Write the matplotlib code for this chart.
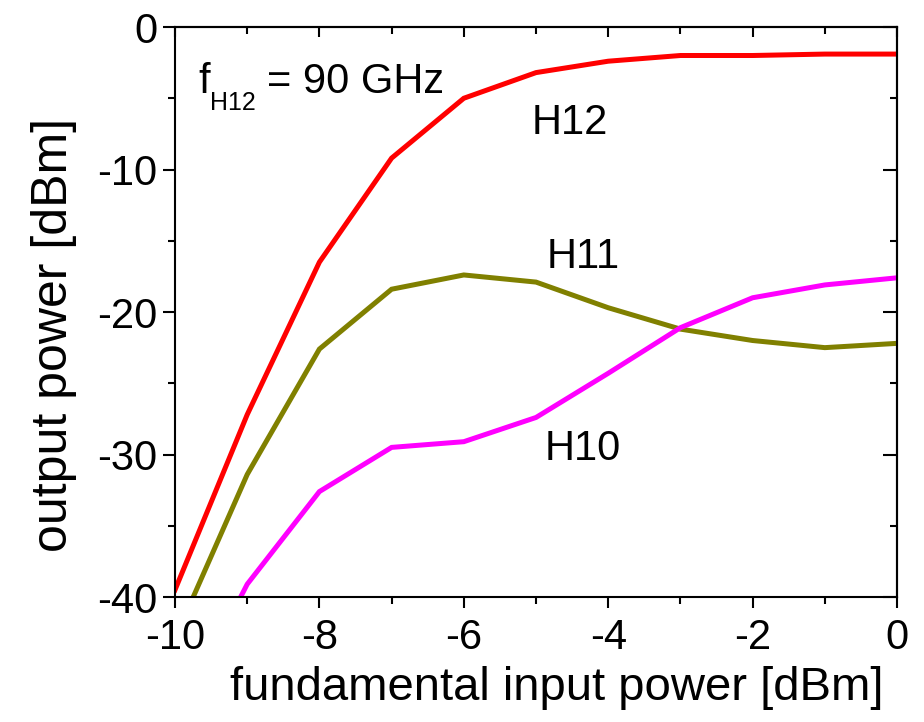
import numpy as np
import matplotlib.pyplot as plt
from matplotlib.ticker import MultipleLocator

plt.rcParams['font.family'] = ['Liberation Sans', 'DejaVu Sans']
plt.rcParams['axes.unicode_minus'] = False

# input power [dBm]
p_in = [-10, -9, -8, -7, -6, -5, -4, -3, -2, -1, 0]
# output power of the harmonics [dBm]
h12 = [-39.5, -27.2, -16.5, -9.2, -5.0, -3.2, -2.4, -2.0, -2.0, -1.9, -1.9]
h11 = [-42.9, -31.4, -22.6, -18.4, -17.4, -17.9, -19.7, -21.2, -22.0, -22.5, -22.2]
h10 = [-49.0, -39.1, -32.6, -29.5, -29.1, -27.4, -24.3, -21.1, -19.0, -18.1, -17.6]

fig = plt.figure(figsize=(9.24, 7.22), dpi=100)
ax = fig.add_axes([0.1894, 0.1731, 0.9708 - 0.1894, 0.9626 - 0.1731])

lw = 3.6
ax.plot(p_in, h12, color='#ff0000', lw=lw, solid_joinstyle='miter')
ax.plot(p_in, h11, color='#808000', lw=lw, solid_joinstyle='miter')
ax.plot(p_in, h10, color='#ff00ff', lw=lw, solid_joinstyle='miter')

ax.set_xlim(-10, 0)
ax.set_ylim(-40, 0)
ax.xaxis.set_major_locator(MultipleLocator(2))
ax.xaxis.set_minor_locator(MultipleLocator(1))
ax.yaxis.set_major_locator(MultipleLocator(10))
ax.yaxis.set_minor_locator(MultipleLocator(5))

for s in ax.spines.values():
    s.set_linewidth(1.5)

ax.tick_params(which='major', direction='out', length=8.5, width=1.5,
               labelsize=30, pad=4)
ax.tick_params(which='minor', direction='out', length=5, width=1.5)
ax.tick_params(axis='x', which='major', length=8, pad=7)

# mirrored ticks, pointing inward
top = ax.secondary_xaxis('top')
top.xaxis.set_major_locator(MultipleLocator(2))
top.xaxis.set_minor_locator(MultipleLocator(1))
top.tick_params(which='major', direction='in', length=7, width=1.5, labeltop=False)
top.tick_params(which='minor', direction='in', length=5, width=1.5)
right = ax.secondary_yaxis('right')
right.yaxis.set_major_locator(MultipleLocator(10))
right.yaxis.set_minor_locator(MultipleLocator(5))
right.tick_params(which='major', direction='in', length=10, width=1.5, labelright=False)
right.tick_params(which='minor', direction='in', length=5, width=1.5)
for sec in (top, right):
    for s in sec.spines.values():
        s.set_linewidth(1.5)

ax.set_xlabel('fundamental input power [dBm]', fontsize=34, labelpad=6)
ax.set_ylabel('output power [dBm]', fontsize=36, labelpad=15)
ax.xaxis.label.set_x(0.529)
ax.yaxis.label.set_y(0.46)

# annotations
ax.text(-9.68, -4.6, 'f', fontsize=30, va='baseline')
ax.text(-9.51, -5.8, 'H12', fontsize=18, va='baseline')
ax.text(-8.72, -4.6, '= 90 GHz', fontsize=30, va='baseline')
ax.text(-5.06, -7.5, 'H12', fontsize=30, va='baseline')
ax.text(-4.85, -16.9, 'H11', fontsize=30, va='baseline')
ax.text(-4.88, -30.4, 'H10', fontsize=30, va='baseline')

fig.savefig('out.png', dpi=100)
